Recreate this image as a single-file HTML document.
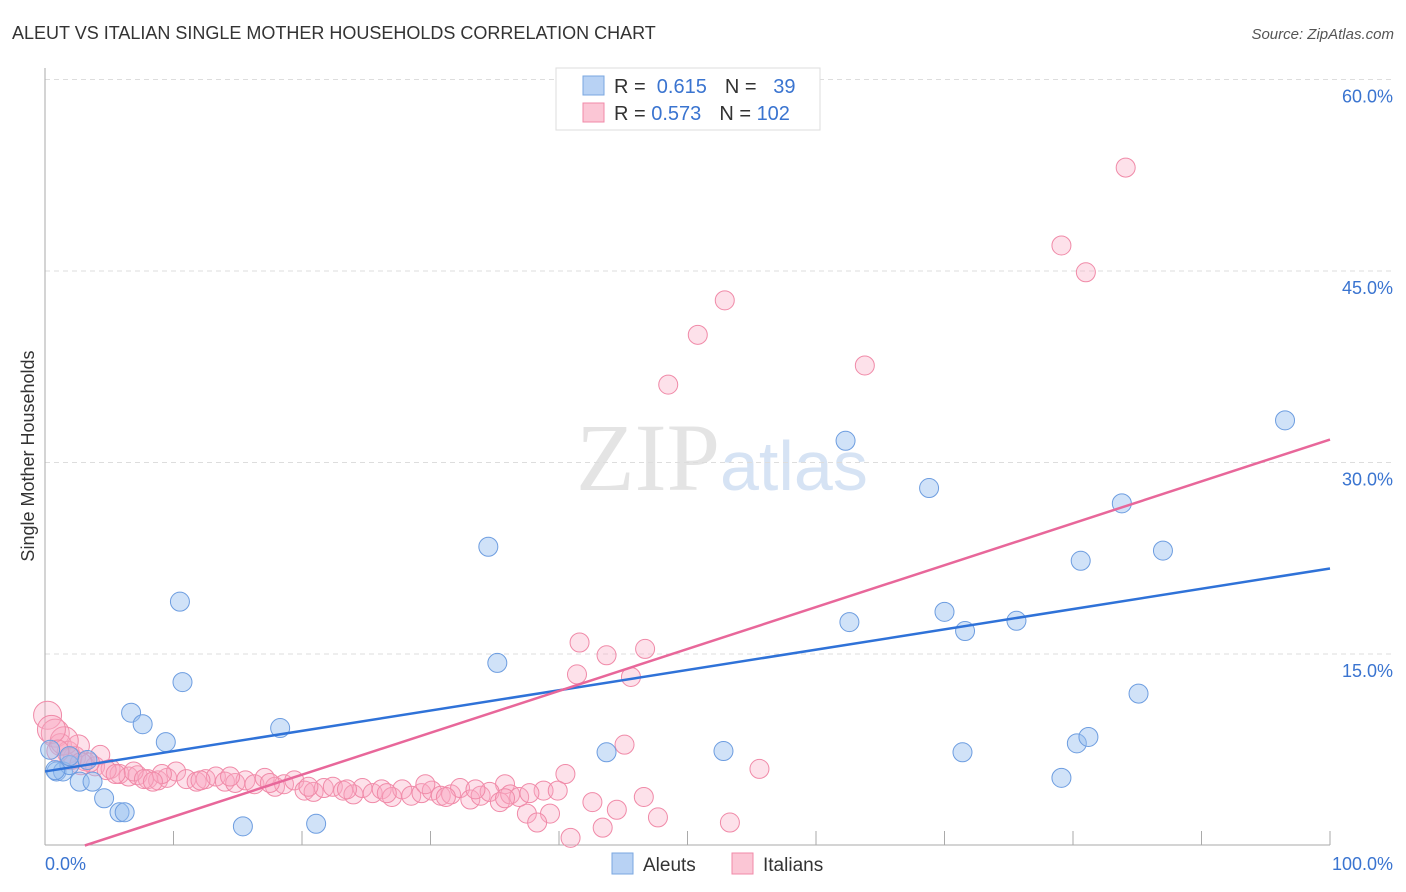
<!DOCTYPE html>
<html><head><meta charset="utf-8"><style>
body{margin:0;background:#fff;font-family:"Liberation Sans",sans-serif}
svg{display:block}
</style></head><body>
<svg width="1406" height="892" id="chart">
<text x="12" y="39" font-size="18" fill="#333">ALEUT VS ITALIAN SINGLE MOTHER HOUSEHOLDS CORRELATION CHART</text>
<text x="1394" y="39" font-size="15" fill="#555" font-style="italic" text-anchor="end">Source: ZipAtlas.com</text>
<text x="720" y="490" font-size="96" fill="#e4e4e4" font-family="Liberation Serif,serif" text-anchor="end">ZIP</text>
<text x="720" y="490" font-size="70" fill="#d6e3f4">atlas</text>
<text x="34" y="456" font-size="18" fill="#333" text-anchor="middle" transform="rotate(-90 34 456)">Single Mother Households</text>
<g id="grid"></g><g id="pts"></g><g id="lines"></g>
<g>
<rect x="556" y="68" width="264" height="62" fill="#fff" stroke="#ddd"/>
<rect x="583" y="76" width="21" height="19" fill="#b8d2f4" stroke="#7aa7e0"/>
<rect x="583" y="103" width="21" height="19" fill="#fbc6d5" stroke="#f08aa8"/>
<text x="614" y="93" font-size="20" fill="#333">R = <tspan fill="#3a74d0">&#160;0.615</tspan><tspan dx="18">N = </tspan><tspan fill="#3a74d0">&#160;&#160;39</tspan></text>
<text x="614" y="120" font-size="20" fill="#333">R = <tspan fill="#3a74d0">0.573</tspan><tspan dx="18">N = </tspan><tspan fill="#3a74d0">102</tspan></text>
</g>
<g>
<rect x="612" y="853" width="21" height="21" fill="#b8d2f4" stroke="#7aa7e0"/>
<text x="643" y="871" font-size="19" fill="#333">Aleuts</text>
<rect x="732" y="853" width="21" height="21" fill="#fbc6d5" stroke="#f08aa8"/>
<text x="763" y="871" font-size="19" fill="#333">Italians</text>
</g>
<text x="45" y="870" font-size="18" fill="#3a74d0">0.0%</text>
<text x="1393" y="870" font-size="18" fill="#3a74d0" text-anchor="end">100.0%</text>
</svg>
<script>
const aleutX=[0.9,1.4,1.9,2.7,3.7,4.6,5.8,6.2,6.7,7.6,9.4,10.5,10.7,15.4,18.3,21.1,34.5,35.2,43.7,52.8,62.3,62.6,68.8,70.0,71.6,71.4,75.6,79.1,80.3,80.6,81.2,83.8,85.1,87.0,96.5,0.4,0.8,1.9,3.3];
const aleutY=[5.8,5.8,6.3,5.0,5.0,3.7,2.6,2.6,10.4,9.5,8.1,19.1,12.8,1.5,9.2,1.7,23.4,14.3,7.3,7.4,31.7,17.5,28.0,18.3,16.8,7.3,17.6,5.3,8.0,22.3,8.5,26.8,11.9,23.1,33.3,7.5,5.9,7.0,6.7];
const italX=[84.1,79.1,81.0,52.9,50.8,48.5,63.8,41.6,43.7,46.7,41.4,45.6,45.1,55.6,40.5,42.6,44.5,46.6,43.4,40.9,47.7,53.3,39.3,37.5,38.3,38.8,39.9,35.8,
0.2,0.8,1.2,1.8,2.3,3.1,3.9,5.1,5.8,6.5,7.2,8.0,8.8,9.5,10.2,11.0,11.8,12.5,13.3,14.0,14.8,15.6,16.3,17.1,17.9,18.6,19.4,20.2,20.9,21.7,22.4,23.2,24.0,24.7,25.5,26.2,27.0,27.8,28.5,29.3,30.1,30.8,31.6,32.3,33.1,33.9,34.6,35.4,36.2,36.9,37.7,2.6,4.3,6.9,9.1,12.1,14.4,17.5,20.5,23.5,26.6,29.6,31.2,33.5,35.8,1.5,2.0,3.5,4.8,7.7,0.5,1.0,2.8,5.5,8.4];
const italY=[53.1,47.0,44.9,42.7,40.0,36.1,37.6,15.9,14.9,15.4,13.4,13.2,7.9,6.0,5.6,3.4,2.8,3.8,1.4,0.6,2.2,1.8,2.5,2.5,1.8,4.3,4.3,4.8,
10.2,8.8,7.9,7.3,6.9,6.6,6.2,6.0,5.6,5.4,5.5,5.2,5.1,5.3,5.8,5.2,5.0,5.2,5.4,5.0,4.9,5.1,4.8,5.3,4.6,4.8,5.1,4.3,4.2,4.5,4.6,4.3,4.0,4.5,4.1,4.4,3.8,4.4,3.9,4.1,4.3,3.9,4.0,4.5,3.6,3.9,4.2,3.4,4.0,3.8,4.1,7.8,7.1,5.8,5.6,5.1,5.4,4.9,4.6,4.4,4.1,4.8,3.8,4.4,3.7,8.2,6.8,6.5,5.9,5.2,9.1,7.4,6.4,5.6,5.0];
const aleutLine=[[0,5.8],[100,21.7]];
const italLine=[[3.1,0],[100,31.8]];
const yTicks=[15,30,45,60];
const xTicks=[0,10,20,30,40,50,60,70,80,90,100];
const sx=v=>45+v*12.85, sy=v=>845.5-v*12.767;
const NS="http://www.w3.org/2000/svg";
function mk(p,t,a){const e=document.createElementNS(NS,t);for(const k in a)e.setAttribute(k,a[k]);p.appendChild(e);return e;}
const grid=document.getElementById('grid');
yTicks.forEach(t=>{
 const l=mk(grid,'line',{x1:45,x2:1392,y1:sy(t),y2:sy(t),stroke:'#ddd','stroke-dasharray':'5,4'});
 
 
 const tx=mk(grid,'text',{x:1393,y:sy(t)+23,'font-size':18,fill:'#3a74d0','text-anchor':'end'});
 tx.textContent=t.toFixed(1)+'%';
 
 
});
const ax=mk(grid,'line',{x1:45,x2:45,y1:68,y2:845,stroke:'#aaa'});


const bx=mk(grid,'line',{x1:45,x2:1330,y1:845,y2:845,stroke:'#aaa'});


xTicks.forEach(t=>{
 const l=mk(grid,'line',{x1:sx(t),x2:sx(t),y1:831,y2:845,stroke:'#aaa'});
 
 
});
const pts=document.getElementById('pts');
italX.forEach((x,i)=>{
 const r=i>=28&&italX[i]<3?(italY[i]>8?14:11):9.5;
 const c=mk(pts,'circle',{cx:sx(x),cy:sy(italY[i]),r:r,fill:'rgba(248,170,195,0.35)',stroke:'#f08aa8','stroke-width':1});
 
 
});
aleutX.forEach((x,i)=>{
 const c=mk(pts,'circle',{cx:sx(x),cy:sy(aleutY[i]),r:9.5,fill:'rgba(150,190,240,0.45)',stroke:'#6d9de0','stroke-width':1});
 
 
});
const lines=document.getElementById('lines');
const l1=mk(lines,'line',{x1:sx(aleutLine[0][0]),y1:sy(aleutLine[0][1]),x2:sx(aleutLine[1][0]),y2:sy(aleutLine[1][1]),stroke:'#2f72d8','stroke-width':2.5});


const l2=mk(lines,'line',{x1:sx(italLine[0][0]),y1:sy(italLine[0][1]),x2:sx(italLine[1][0]),y2:sy(italLine[1][1]),stroke:'#e8679a','stroke-width':2.5});


</script>
</body></html>
